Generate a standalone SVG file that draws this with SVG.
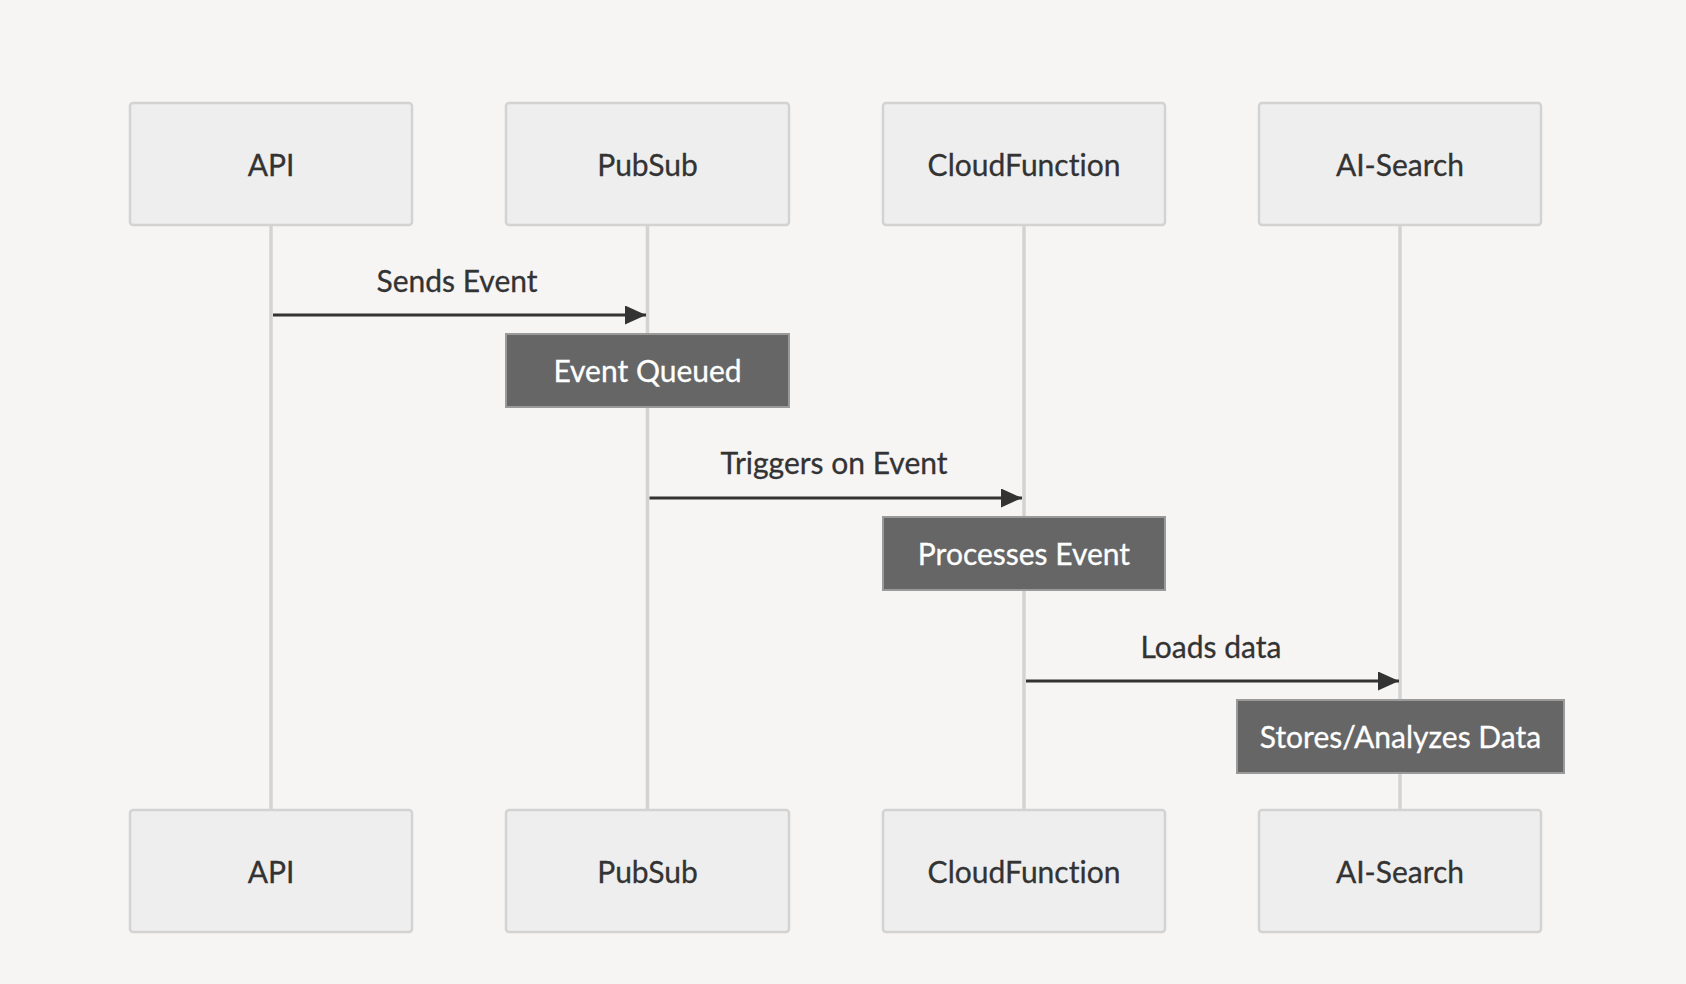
<svg xmlns="http://www.w3.org/2000/svg" width="1686" height="984" viewBox="0 0 1686 984">
<defs>
<style>
.bg{fill:#f6f5f3}
.actor{fill:#eeeeee;stroke:#d3d3d3;stroke-width:2.5}
.life{stroke:#d3d3d3;stroke-width:3.5;fill:none}
.note{fill:#666666;stroke:#9a9a9a;stroke-width:2}
.msg{stroke:#333333;stroke-width:3;fill:none}
.t{font-family:Lato,"Open Sans","DejaVu Sans",sans-serif;font-size:30px;fill:#333333;text-anchor:middle;font-variant-ligatures:none;stroke:#333333;stroke-width:0.3}
.tn{font-family:Lato,"Open Sans","DejaVu Sans",sans-serif;font-size:30px;fill:#ffffff;text-anchor:middle;font-variant-ligatures:none;stroke:#ffffff;stroke-width:0.3}
</style>
<marker id="arrow" markerUnits="userSpaceOnUse" markerWidth="22" markerHeight="20" refX="21" refY="9.5" orient="auto">
<path d="M0,0 L21,9.5 L0,19 z" fill="#333333"/>
</marker>
</defs>
<rect class="bg" x="0" y="0" width="1686" height="984"/>
<g id="lifelines">
<line class="life" x1="271" y1="225" x2="271" y2="811"/>
<line class="life" x1="647.5" y1="225" x2="647.5" y2="811"/>
<line class="life" x1="1024" y1="225" x2="1024" y2="811"/>
<line class="life" x1="1400" y1="225" x2="1400" y2="811"/>
</g>
<g id="actor-api-top"><rect class="actor" x="130" y="103" width="282" height="122" rx="3"/><text class="t" x="271" y="176">API</text></g>
<g id="actor-pubsub-top"><rect class="actor" x="506" y="103" width="283" height="122" rx="3"/><text class="t" x="647.5" y="176">PubSub</text></g>
<g id="actor-cloudfunction-top"><rect class="actor" x="883" y="103" width="282" height="122" rx="3"/><text class="t" x="1024" y="176">CloudFunction</text></g>
<g id="actor-aisearch-top"><rect class="actor" x="1259" y="103" width="282" height="122" rx="3"/><text class="t" x="1400" y="176">AI-Search</text></g>
<g id="actor-api-bottom"><rect class="actor" x="130" y="810" width="282" height="122" rx="3"/><text class="t" x="271" y="883">API</text></g>
<g id="actor-pubsub-bottom"><rect class="actor" x="506" y="810" width="283" height="122" rx="3"/><text class="t" x="647.5" y="883">PubSub</text></g>
<g id="actor-cloudfunction-bottom"><rect class="actor" x="883" y="810" width="282" height="122" rx="3"/><text class="t" x="1024" y="883">CloudFunction</text></g>
<g id="actor-aisearch-bottom"><rect class="actor" x="1259" y="810" width="282" height="122" rx="3"/><text class="t" x="1400" y="883">AI-Search</text></g>
<g id="connectors">
<line class="msg" x1="273" y1="315" x2="646" y2="315" marker-end="url(#arrow)"/>
<text class="t" x="457" y="292">Sends Event</text>
<line class="msg" x1="649.5" y1="498" x2="1022" y2="498" marker-end="url(#arrow)"/>
<text class="t" x="834" y="474">Triggers on Event</text>
<line class="msg" x1="1026" y1="681" x2="1399" y2="681" marker-end="url(#arrow)"/>
<text class="t" x="1211" y="658">Loads data</text>
</g>
<g id="note-event-queued"><rect class="note" x="506" y="334" width="283" height="73"/><text class="tn" x="647.5" y="382">Event Queued</text></g>
<g id="note-processes-event"><rect class="note" x="883" y="517" width="282" height="73"/><text class="tn" x="1024" y="565">Processes Event</text></g>
<g id="note-stores-analyzes"><rect class="note" x="1237" y="700" width="327" height="73"/><text class="tn" x="1400.5" y="748">Stores/Analyzes Data</text></g>
</svg>
